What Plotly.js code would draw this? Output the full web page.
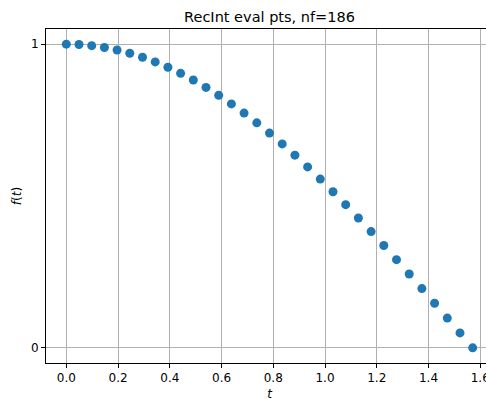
<!DOCTYPE html>
<html>
<head>
<meta charset="utf-8">
<script src="https://cdn.plot.ly/plotly-3.0.1.min.js"></script>
<style>
html, body { margin: 0; padding: 0; overflow: hidden; background: #fff; }
#chart { width: 520px; height: 405px; }
</style>
</head>
<body>
<div id="chart"></div>
<script>
// Evaluation points t and values f(t)
const tValues = [0.0000, 0.0491, 0.0982, 0.1473, 0.1963, 0.2454, 0.2945, 0.3436,
  0.3927, 0.4418, 0.4909, 0.5400, 0.5890, 0.6381, 0.6872, 0.7363,
  0.7854, 0.8345, 0.8836, 0.9327, 0.9817, 1.0308, 1.0799, 1.1290,
  1.1781, 1.2272, 1.2763, 1.3254, 1.3744, 1.4235, 1.4726, 1.5217, 1.5708];
const fValues = [1.0000, 0.9988, 0.9952, 0.9892, 0.9808, 0.9700, 0.9569, 0.9415,
  0.9239, 0.9040, 0.8819, 0.8577, 0.8315, 0.8032, 0.7730, 0.7410,
  0.7071, 0.6716, 0.6344, 0.5957, 0.5556, 0.5141, 0.4714, 0.4276,
  0.3827, 0.3369, 0.2903, 0.2430, 0.1951, 0.1467, 0.0980, 0.0491, 0.0000];
const xTicks = [0.0, 0.2, 0.4, 0.6, 0.8, 1.0, 1.2, 1.4, 1.6];
const xTickLabels = ["0.0", "0.2", "0.4", "0.6", "0.8", "1.0", "1.2", "1.4", "1.6"];
const yTicks = [0, 1];
const yTickLabels = ["0", "1"];
const titleText = "RecInt eval pts, nf=186";

const trace = {
  x: tValues,
  y: fValues,
  type: "scatter",
  mode: "markers",
  marker: { color: "#1f77b4", size: 9, line: { width: 0 } },
  hoverinfo: "skip"
};

const axisCommon = {
  showline: true, linecolor: "#000", linewidth: 1, mirror: true,
  ticks: "outside", ticklen: 4, tickwidth: 1, tickcolor: "#000",
  showgrid: true, gridcolor: "#b0b0b0", gridwidth: 1,
  zeroline: false,
  tickfont: { family: "DejaVu Sans", size: 12, color: "#000" }
};

const layout = {
  width: 520, height: 405,
  margin: { l: 46, r: 27, t: 29, b: 42 },
  paper_bgcolor: "#fff", plot_bgcolor: "#fff",
  showlegend: false,
  font: { family: "DejaVu Sans", color: "#000" },
  title: {
    text: titleText,
    font: { family: "DejaVu Sans", size: 14.5, color: "#000" },
    x: 0.5, xref: "paper", xanchor: "center",
    y: 1, yref: "paper", yanchor: "bottom", pad: { b: 7 }
  },
  xaxis: Object.assign({}, axisCommon, {
    range: [-0.0785, 1.6493],
    tickvals: xTicks, ticktext: xTickLabels,
    title: { text: "<i>t</i>", font: { family: "DejaVu Sans", size: 12, color: "#000" }, standoff: 5 }
  }),
  yaxis: Object.assign({}, axisCommon, {
    range: [-0.05, 1.05],
    tickvals: yTicks, ticktext: yTickLabels,
    title: { text: "<i>f</i>(<i>t</i>)", font: { family: "DejaVu Sans", size: 12, color: "#000" }, standoff: 6 }
  })
};

Plotly.newPlot("chart", [trace], layout, { displayModeBar: false, staticPlot: true });
</script>
</body>
</html>
